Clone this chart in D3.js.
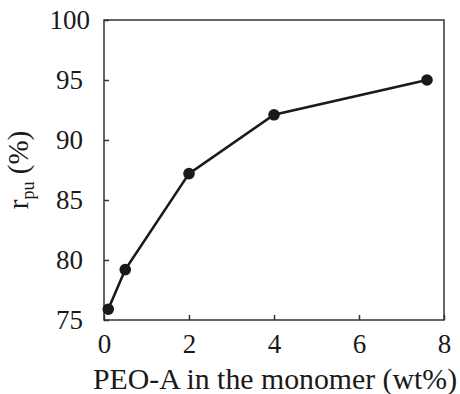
<!DOCTYPE html>
<html>
<head>
<meta charset="utf-8">
<script src="https://cdn.jsdelivr.net/npm/d3@7"></script>
<style>
  body { margin: 0; background: #fff; }
</style>
</head>
<body>
<div id="chart"></div>
<script>
// data
var peoContent = [0.1, 0.5, 2, 4, 7.6];
var rpu = [75.9, 79.2, 87.2, 92.1, 95.0];
var xTicks = [0, 2, 4, 6, 8];
var yTicks = [75, 80, 85, 90, 95, 100];

var FONT = "'Liberation Serif'";
var W = 460, H = 394;
var margin = {top: 20, right: 16, bottom: 74, left: 104},
    width = W - margin.left - margin.right,
    height = H - margin.top - margin.bottom;

var svg = d3.select("#chart")
  .append("svg")
    .attr("width", W)
    .attr("height", H)
  .append("g")
    .attr("transform", "translate(" + margin.left + "," + margin.top + ")");

var x = d3.scaleLinear().domain([0, 8]).range([0, width]);
var y = d3.scaleLinear().domain([75, 100]).range([height, 0]);

// frame
svg.append("rect")
  .attr("width", width)
  .attr("height", height)
  .attr("fill", "none")
  .attr("stroke", "#333")
  .attr("stroke-width", 1.5);

// bottom axis, ticks inward
var xAxis = svg.append("g")
  .attr("transform", "translate(0," + height + ")")
  .call(d3.axisBottom(x).tickValues(xTicks).tickSizeInner(-5).tickSizeOuter(0).tickPadding(14));
xAxis.select(".domain").remove();
xAxis.selectAll("line").attr("stroke", "#333").attr("stroke-width", 1.5);
xAxis.selectAll("text").attr("fill", "#1a1a1a")
  .style("font-size", "27px")
  .style("font-family", FONT);

// left axis, ticks inward
var yAxis = svg.append("g")
  .call(d3.axisLeft(y).tickValues(yTicks).tickSizeInner(-5).tickSizeOuter(0).tickPadding(21));
yAxis.select(".domain").remove();
yAxis.selectAll("line").attr("stroke", "#333").attr("stroke-width", 1.5);
yAxis.selectAll("text").attr("fill", "#1a1a1a")
  .style("font-size", "27px")
  .style("font-family", FONT);
// the top label sits a little further right in the original
yAxis.selectAll("text").filter(function(d) { return d === 100; }).attr("dx", 7);

// line + markers
var line = d3.line()
  .x(function(d, i) { return x(peoContent[i]); })
  .y(function(d) { return y(d); });

svg.append("path")
  .datum(rpu)
  .attr("d", line)
  .attr("fill", "none")
  .attr("stroke", "#1a1a1a")
  .attr("stroke-width", 2.6);

svg.selectAll("circle.pt")
  .data(rpu)
  .enter()
  .append("circle")
    .attr("class", "pt")
    .attr("cx", function(d, i) { return x(peoContent[i]); })
    .attr("cy", function(d) { return y(d); })
    .attr("r", 5.8)
    .attr("fill", "#1a1a1a");

// axis titles
svg.append("text")
  .attr("x", width / 2 + 1)
  .attr("y", height + 69)
  .attr("text-anchor", "middle")
  .attr("fill", "#1a1a1a")
  .style("font-size", "29.8px")
  .style("font-family", FONT)
  .text("PEO-A in the monomer (wt%)");

var yt = svg.append("text")
  .attr("transform", "translate(" + (-76) + "," + (height / 2) + ") rotate(-90)")
  .attr("text-anchor", "middle")
  .attr("fill", "#1a1a1a")
  .style("font-size", "29px")
  .style("font-family", FONT);
yt.append("tspan").text("r");
yt.append("tspan").style("font-size", "18px").attr("dy", 6).text("pu");
yt.append("tspan").attr("dy", -6).text(" (%)");
</script>
</body>
</html>
